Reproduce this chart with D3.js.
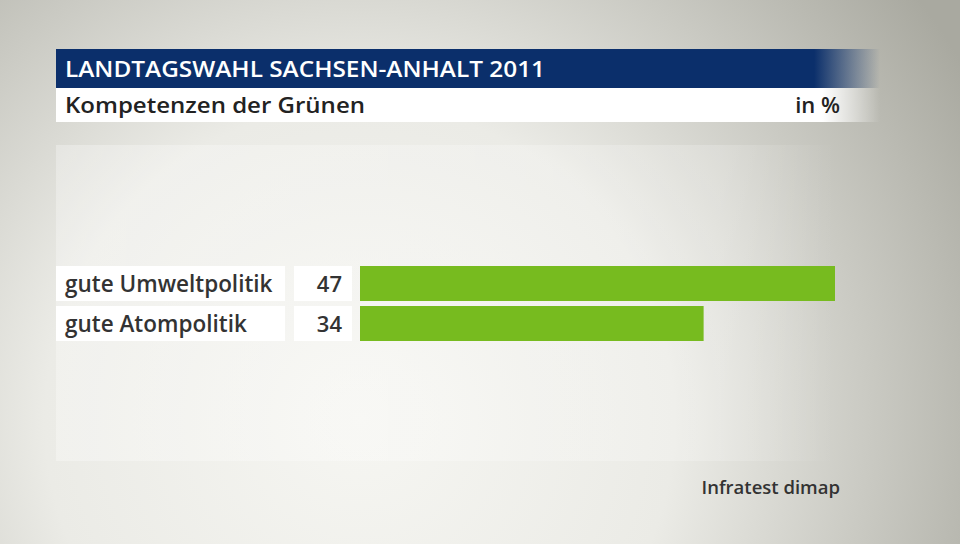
<!DOCTYPE html>
<html><head><meta charset="utf-8">
<script src="https://cdn.jsdelivr.net/npm/d3@7"></script>
<style>body{margin:0;}svg{display:block;}</style>
</head><body>
<svg id="c" width="960" height="544"></svg>
<script>
const title = "LANDTAGSWAHL SACHSEN-ANHALT 2011";
const subtitle = "Kompetenzen der Grünen";
const unit = "in %";
const source = "Infratest dimap";
const categories = ["gute Umweltpolitik", "gute Atompolitik"];
const values = [47, 34];

const svg = d3.select("#c");
const defs = svg.append("defs");
const bg = defs.append("radialGradient").attr("id","bg").attr("gradientUnits","userSpaceOnUse")
  .attr("cx",360).attr("cy",420).attr("r",700);
bg.append("stop").attr("offset","0").attr("stop-color","#f6f6f2");
bg.append("stop").attr("offset","0.45").attr("stop-color","#ebebe6");
bg.append("stop").attr("offset","1").attr("stop-color","#a9a9a0");
svg.append("rect").attr("width",960).attr("height",544).attr("fill","url(#bg)");
const lg = defs.append("linearGradient").attr("id","pan").attr("x1","0").attr("x2","1");
lg.append("stop").attr("offset","0").attr("stop-color","#ffffff").attr("stop-opacity",0.3);
lg.append("stop").attr("offset","0.85").attr("stop-color","#ffffff").attr("stop-opacity",0.2);
lg.append("stop").attr("offset","1").attr("stop-color","#ffffff").attr("stop-opacity",0);
svg.append("rect").attr("x",56).attr("y",145).attr("width",780).attr("height",316).attr("fill","url(#pan)");

const tg = defs.append("linearGradient").attr("id","tb").attr("x1","0").attr("x2","1");
tg.append("stop").attr("offset","0").attr("stop-color","#0b2f6b");
tg.append("stop").attr("offset","0.92").attr("stop-color","#0b2f6b");
tg.append("stop").attr("offset","1").attr("stop-color","#0b2f6b").attr("stop-opacity",0);
const wg = defs.append("linearGradient").attr("id","wb").attr("x1","0").attr("x2","1");
wg.append("stop").attr("offset","0").attr("stop-color","#ffffff");
wg.append("stop").attr("offset","0.93").attr("stop-color","#ffffff");
wg.append("stop").attr("offset","1").attr("stop-color","#ffffff").attr("stop-opacity",0);

svg.append("rect").attr("x",56).attr("y",49).attr("width",824).attr("height",39).attr("fill","url(#tb)");
svg.append("rect").attr("x",56).attr("y",88).attr("width",824).attr("height",34).attr("fill","url(#wb)");
const font = "'Open Sans', sans-serif";
svg.append("text").attr("x",65).attr("y",77).text(title)
  .attr("font-family",font).attr("font-weight",600).attr("font-size",22).attr("fill","#fff")
  .attr("textLength",480).attr("lengthAdjust","spacingAndGlyphs");
svg.append("text").attr("x",65).attr("y",113).text(subtitle)
  .attr("font-family",font).attr("font-weight",600).attr("font-size",22).attr("fill","#222")
  .attr("textLength",300).attr("lengthAdjust","spacingAndGlyphs");
svg.append("text").attr("x",840).attr("y",113).attr("text-anchor","end").text(unit)
  .attr("font-family",font).attr("font-weight",600).attr("font-size",22).attr("fill","#222");

const y = d3.scaleBand().domain(categories).range([266, 341]).paddingInner(0.125).paddingOuter(0);
const x = d3.scaleLinear().domain([0, 47]).range([360, 835]);

const rows = svg.selectAll("g.row").data(categories).enter().append("g").attr("class","row");
rows.append("rect").attr("x",56).attr("y",d=>y(d)).attr("width",229).attr("height",y.bandwidth()).attr("fill","#fff");
rows.append("rect").attr("x",294).attr("y",d=>y(d)).attr("width",58).attr("height",y.bandwidth()).attr("fill","#fff");
rows.append("text").attr("x",65).attr("y",d=>y(d)+y.bandwidth()/2+8).text(d=>d)
  .attr("font-family",font).attr("font-weight",600).attr("font-size",22.5).attr("fill","#333");
rows.append("text").attr("x",342).attr("y",d=>y(d)+y.bandwidth()/2+8).attr("text-anchor","end")
  .text((d,i)=>values[i])
  .attr("font-family",font).attr("font-weight",600).attr("font-size",22).attr("fill","#333");
rows.append("rect").attr("x",x(0)).attr("y",d=>y(d)).attr("width",(d,i)=>x(values[i])-x(0))
  .attr("height",y.bandwidth()).attr("fill","#77bb1f");

svg.append("text").attr("x",840).attr("y",494).attr("text-anchor","end").text(source)
  .attr("font-family",font).attr("font-weight",600).attr("font-size",18.5).attr("fill","#333");
</script>
</body></html>
